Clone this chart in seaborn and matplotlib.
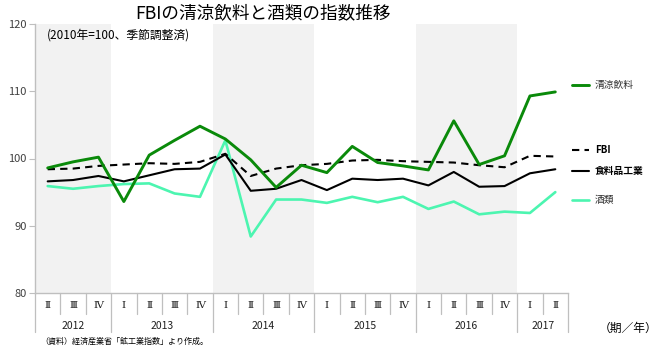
import matplotlib
matplotlib.use("Agg")
import matplotlib.pyplot as plt
from matplotlib.lines import Line2D
import matplotlib.transforms as mtransforms
import seaborn as sns
import pandas as pd
import numpy as np

sns.set_style("white")
plt.rcParams['font.family'] = ['Noto Sans CJK JP', 'DejaVu Sans']

quarters = ["Ⅱ", "Ⅲ", "Ⅳ",
            "Ⅰ", "Ⅱ", "Ⅲ", "Ⅳ",
            "Ⅰ", "Ⅱ", "Ⅲ", "Ⅳ",
            "Ⅰ", "Ⅱ", "Ⅲ", "Ⅳ",
            "Ⅰ", "Ⅱ", "Ⅲ", "Ⅳ",
            "Ⅰ", "Ⅱ"]
years = ["2012", "2013", "2014", "2015", "2016", "2017"]
year_counts = [3, 4, 4, 4, 4, 2]
shaded_years = ["2012", "2014", "2016"]

seiryo = [98.6, 99.5, 100.2, 93.6, 100.5, 102.7, 104.8, 102.9, 99.8, 95.7, 99.0,
          97.9, 101.8, 99.4, 98.9, 98.3, 105.6, 99.1, 100.4, 109.3, 109.9]
fbi = [98.4, 98.5, 98.9, 99.1, 99.3, 99.2, 99.5, 100.7, 97.4, 98.5, 99.0,
       99.2, 99.7, 99.8, 99.6, 99.5, 99.4, 99.0, 98.7, 100.4, 100.3]
shokuryo = [96.6, 96.8, 97.4, 96.6, 97.5, 98.4, 98.5, 100.6, 95.2, 95.5, 96.8,
            95.3, 97.0, 96.8, 97.0, 96.0, 98.0, 95.8, 95.9, 97.8, 98.4]
sake = [95.9, 95.5, 95.9, 96.2, 96.3, 94.8, 94.3, 102.7, 88.4, 93.9, 93.9,
        93.4, 94.3, 93.5, 94.3, 92.5, 93.6, 91.7, 92.1, 91.9, 95.0]

series_names = ["清涼飲料", "FBI", "食料品工業", "酒類"]
series_vals = [seiryo, fbi, shokuryo, sake]
colors = {"清涼飲料": "#0a8a0a", "FBI": "#000000", "食料品工業": "#000000", "酒類": "#4cf5b0"}
widths = {"清涼飲料": 2.1, "FBI": 1.5, "食料品工業": 1.5, "酒類": 1.9}
styles = {"清涼飲料": "-", "FBI": (0, (3.5, 2.5)), "食料品工業": "-", "酒類": "-"}

idx = np.arange(len(quarters))
df = pd.concat([pd.DataFrame({"x": idx, "value": v, "series": n})
                for n, v in zip(series_names, series_vals)], ignore_index=True)

W, H = 670, 349
fig = plt.figure(figsize=(W / 100, H / 100), dpi=100)
ax = fig.add_axes([35 / W, 1 - 293 / H, (568 - 35) / W, (293 - 24) / H])

# shaded year bands
start = 0
year_starts = []
for y, c in zip(years, year_counts):
    year_starts.append(start)
    if y in shaded_years:
        ax.axvspan(start - 0.5, start + c - 0.5, color="#f2f2f2", zorder=0, lw=0)
    start += c

for n in ["酒類", "食料品工業", "FBI", "清涼飲料"]:
    sub = df[df["series"] == n]
    sns.lineplot(data=sub, x="x", y="value", ax=ax, color=colors[n],
                 linewidth=widths[n], linestyle=styles[n], legend=False, zorder=3)

ax.set_xlim(-0.5, len(quarters) - 0.5)
ax.set_ylim(80, 120)
ax.set_yticks([80, 90, 100, 110, 120])
ax.set_xticks([])
ax.set_xlabel("")
ax.set_ylabel("")
for s in ["top", "right"]:
    ax.spines[s].set_visible(False)
for s in ["left", "bottom"]:
    ax.spines[s].set_color("#bfbfbf")
    ax.spines[s].set_linewidth(1.0)
ax.tick_params(axis="y", length=4, width=0.8, color="#bfbfbf", labelsize=8,
               labelcolor="#404040", pad=2, left=True)

# x-axis labels and separators
trans = mtransforms.blended_transform_factory(ax.transData, ax.transAxes)
ax_h = 293 - 24
def yfrac(py):
    return (293 - py) / ax_h
for i, q in enumerate(quarters):
    ax.text(i, yfrac(306), q, transform=trans, ha="center", va="center",
            fontsize=7.5, color="#202020", family=["DejaVu Serif", "Noto Sans CJK JP"])
for i in range(len(quarters) + 1):
    xb = i - 0.5
    is_year = (i in year_starts) or i == len(quarters)
    ax.plot([xb, xb], [0, yfrac(332 if is_year else 314)], transform=trans,
            color="#bfbfbf", lw=0.9, clip_on=False, zorder=1)
for y, s0, c in zip(years, year_starts, year_counts):
    ax.text(s0 + (c - 1) / 2, yfrac(326), y, transform=trans, ha="center",
            va="center", fontsize=7.5, color="#202020")

# title and notes
fig.text(263 / W, 1 - 13 / H, "FBIの清涼飲料と酒類の指数推移", ha="center", va="center",
         fontsize=12.7, color="#000000")
fig.text(47 / W, 1 - 35 / H, "(2010年=100、季節調整済)", ha="left", va="center",
         fontsize=8.5, color="#000000")
fig.text(40 / W, 1 - 341 / H, "（資料）経済産業省「鉱工業指数」より作成。", ha="left",
         va="center", fontsize=5.8, color="#000000")
fig.text(628 / W, 1 - 328 / H, "（期／年）", ha="center", va="center",
         fontsize=8.5, color="#000000")

# legend at right
legend_pos = {"清涼飲料": 85, "FBI": 150, "食料品工業": 171, "酒類": 200}
for n in series_names:
    py = 1 - legend_pos[n] / H
    fig.add_artist(Line2D([572 / W, 589 / W], [py, py], transform=fig.transFigure,
                          color=colors[n], lw=widths[n], linestyle=styles[n]))
    bold = n in ("FBI", "食料品工業")
    fig.text(595 / W, py, n, ha="left", va="center", fontsize=7,
             fontweight="bold" if bold else "normal",
             color="#000000" if bold else "#303030")

fig.savefig("out.png", dpi=100)
